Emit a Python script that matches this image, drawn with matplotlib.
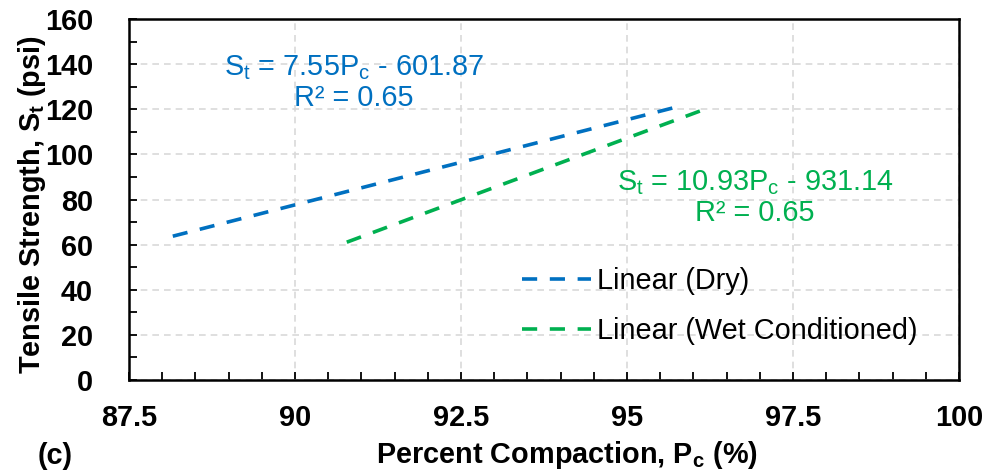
import matplotlib
matplotlib.use("Agg")
import matplotlib.pyplot as plt
import numpy as np

plt.rcParams['font.family'] = ['Liberation Sans', 'DejaVu Sans']
plt.rcParams['mathtext.fontset'] = 'custom'
plt.rcParams['mathtext.rm'] = 'Liberation Sans'
plt.rcParams['mathtext.it'] = 'Liberation Sans:italic'
plt.rcParams['mathtext.bf'] = 'Liberation Sans:bold'

# Data: linear trendlines (slope, intercept) and their x-extents
series_names = ["Linear (Dry)", "Linear (Wet Conditioned)"]
slopes = [7.55, 10.93]
intercepts = [-601.87, -931.14]
x_start = [88.16, 90.78]
x_end = [95.72, 96.11]
r2_values = [0.65, 0.65]
colors = ["#0070C0", "#00B050"]

x_ticks = [87.5, 90, 92.5, 95, 97.5, 100]
x_tick_labels = ["87.5", "90", "92.5", "95", "97.5", "100"]
y_ticks = [0, 20, 40, 60, 80, 100, 120, 140, 160]

FS = 20.8

fig = plt.figure(figsize=(9.89, 4.72), dpi=100)
ax = fig.add_axes([0.1304, 0.1949, 0.8393, 0.7648])

for name, m, b, xs, xe, c in zip(series_names, slopes, intercepts, x_start, x_end, colors):
    xx = np.array([xs, xe])
    ax.plot(xx, m * xx + b, color=c, lw=2.6, dashes=(4.2, 3.5), label=name,
            solid_capstyle='butt', dash_capstyle='butt')

ax.set_xlim(87.5, 100)
ax.set_ylim(0, 160)
ax.set_xticks(x_ticks)
ax.set_xticklabels(x_tick_labels)
ax.set_yticks(y_ticks)
ax.set_xticks(np.arange(87.5, 100.01, 0.5), minor=True)
ax.set_yticks(np.arange(0, 160.1, 10), minor=True)

ax.tick_params(axis='both', which='both', direction='in', length=6, width=1.3,
               labelsize=FS, colors='black')
ax.tick_params(axis='x', which='major', pad=17)
ax.tick_params(axis='y', which='major', pad=26)
for lab in ax.get_xticklabels() + ax.get_yticklabels():
    lab.set_fontweight('bold')

ax.grid(True, which='major', color='#D9D9D9', lw=1.2, dashes=(4, 3))
ax.set_axisbelow(True)
for s in ax.spines.values():
    s.set_linewidth(1.8)
    s.set_color('black')

ax.set_xlabel("Percent Compaction, P$_\\mathbf{c}$ (%)", fontsize=FS, fontweight='bold', labelpad=5)
ax.set_ylabel("Tensile Strength, S$_\\mathbf{t}$ (psi)", fontsize=FS, fontweight='bold', labelpad=-2)
ax.xaxis.label.set_x(0.528)
ax.yaxis.label.set_y(0.485)

# Equation annotations
ax.text(90.89, 138.5, "S$_\\mathrm{t}$ = %.2fP$_\\mathrm{c}$ - %.2f" % (slopes[0], -intercepts[0]),
        color=colors[0], fontsize=FS, ha='center', va='center')
ax.text(90.89, 125.0, "R² = %.2f" % r2_values[0], color=colors[0], fontsize=FS,
        ha='center', va='center')
ax.text(96.93, 87.5, "S$_\\mathrm{t}$ = %.2fP$_\\mathrm{c}$ - %.2f" % (slopes[1], -intercepts[1]),
        color=colors[1], fontsize=FS, ha='center', va='center')
ax.text(96.93, 74.0, "R² = %.2f" % r2_values[1], color=colors[1], fontsize=FS,
        ha='center', va='center')

leg = ax.legend(loc='center left', bbox_to_anchor=(0.4735, 0.205), frameon=False,
                fontsize=FS, handlelength=2.4, handletextpad=0.2, borderpad=0,
                borderaxespad=0, labelspacing=0.75)

fig.text(0.038, 0.034, "(c)", fontsize=FS, fontweight='bold', ha='left', va='center')

fig.savefig("out.png", dpi=100)
